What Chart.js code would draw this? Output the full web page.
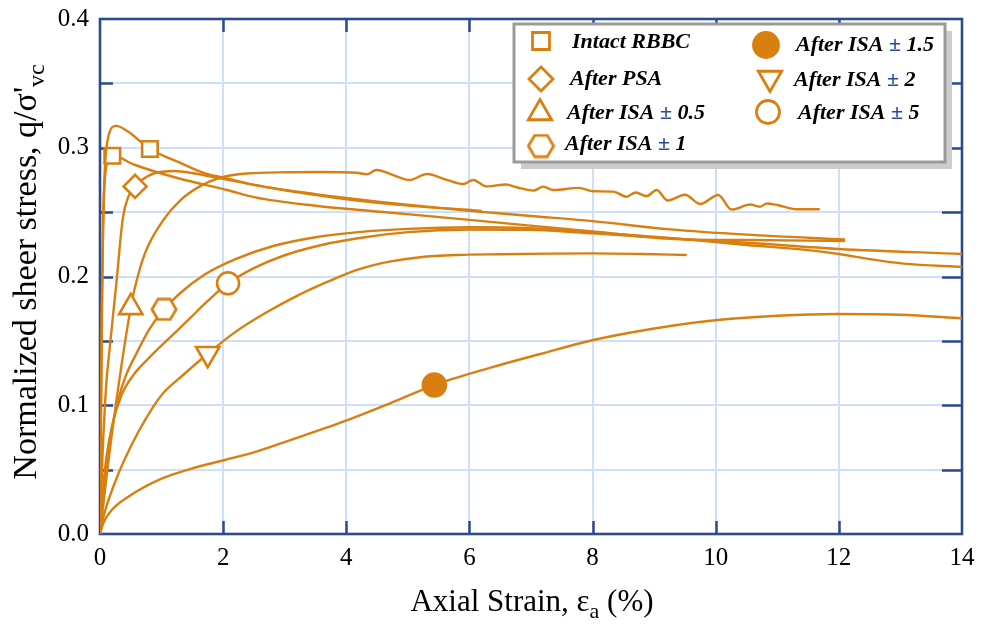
<!DOCTYPE html>
<html><head><meta charset="utf-8">
<script src="https://cdn.jsdelivr.net/npm/chart.js@4.4.1/dist/chart.umd.min.js"></script>
<style>html,body{margin:0;padding:0;background:#fff;}#wrap{width:982px;height:627px;position:relative;}</style>
</head><body><div id="wrap"><canvas id="c" width="982" height="627"></canvas></div>
<script>
// ---------- data ----------
const xTickValues = [0, 2, 4, 6, 8, 10, 12, 14];
const yTickLabels = ['0.0', '0.1', '0.2', '0.3', '0.4'];
const seriesNames = ['Intact RBBC', 'After PSA', 'After ISA \u00B1 0.5', 'After ISA \u00B1 1',
                     'After ISA \u00B1 1.5', 'After ISA \u00B1 2', 'After ISA \u00B1 5'];

const intactAX = [0, 0.01, 0.03, 0.05, 0.08, 0.12, 0.17, 0.26, 0.46, 0.81, 1.27, 1.71, 2.08, 2.52, 3.5, 4.55, 6.0, 7.0, 8.0, 9.26, 10.5, 12.1];
const intactAY = [0, 0.06, 0.16, 0.24, 0.285, 0.305, 0.314, 0.317, 0.3125, 0.299, 0.289, 0.280, 0.276, 0.271, 0.264, 0.258, 0.251, 0.247, 0.243, 0.2366, 0.2325, 0.2287];
const intactAMarker = 9;

const intactBX = [0, 0.01, 0.03, 0.06, 0.1, 0.2, 0.57, 1.27, 2.08, 2.52, 3.5, 4.55, 6.0, 8.0, 9.4, 10.5, 12.1];
const intactBY = [0, 0.07, 0.18, 0.255, 0.285, 0.2938, 0.2866, 0.2763, 0.267, 0.2615, 0.255, 0.2503, 0.244, 0.235, 0.229, 0.2283, 0.2276];
const intactBMarker = 5;

const psaX = [0, 0.04, 0.1, 0.16, 0.27, 0.37, 0.46, 0.57, 0.87, 1.22, 1.54, 1.98, 3.0, 4.55, 6.2];
const psaY = [0, 0.06, 0.115, 0.1455, 0.197, 0.245, 0.262, 0.270, 0.280, 0.282, 0.280, 0.276, 0.267, 0.257, 0.251];
const psaMarker = 7;

const isa05X = [0, 0.1, 0.25, 0.5, 0.57, 0.73, 1.03, 1.3, 1.62, 1.95, 2.38, 3.09, 3.6, 4.17, 4.33, 4.49, 4.76, 5.03, 5.31, 5.63, 5.9, 6.06, 6.28, 6.6, 6.75, 7.04, 7.2, 7.36, 7.78, 8.01, 8.34, 8.55, 8.7, 8.88, 9.04, 9.22, 9.5, 9.75, 10.04, 10.26, 10.56, 10.72, 10.83, 11.0, 11.31, 11.69];
const isa05Y = [0, 0.042, 0.098, 0.176, 0.192, 0.218, 0.244, 0.259, 0.27, 0.2767, 0.280, 0.281, 0.2812, 0.2806, 0.2794, 0.2827, 0.2788, 0.275, 0.2796, 0.275, 0.2718, 0.275, 0.270, 0.2715, 0.2695, 0.2667, 0.2698, 0.2672, 0.2688, 0.2662, 0.2659, 0.262, 0.2652, 0.2625, 0.2672, 0.259, 0.2635, 0.2563, 0.2633, 0.252, 0.2559, 0.2542, 0.2567, 0.2555, 0.2522, 0.2522];
const isa05Marker = 3;

const isa1X = [0, 0.05, 0.12, 0.2, 0.3, 0.42, 0.6, 0.8, 1.04, 1.3, 1.7, 2.2, 2.8, 3.5, 4.2, 5.0, 6.0, 7.0, 8.0, 9.26, 10.5, 11.5, 12.0, 12.5, 13.05, 14];
const isa1Y = [0, 0.03, 0.06, 0.083, 0.105, 0.123, 0.141, 0.159, 0.1745, 0.187, 0.2015, 0.2135, 0.2235, 0.2305, 0.2345, 0.237, 0.2383, 0.2375, 0.2345, 0.2300, 0.2245, 0.2205, 0.2175, 0.2135, 0.2100, 0.2074];
const isa1Marker = 8;

const isa15X = [0, 0.05, 0.19, 0.46, 1.0, 1.5, 2.03, 2.54, 3.09, 4.02, 4.71, 5.43, 6.33, 7.15, 8.01, 9.26, 10.03, 11.0, 11.96, 13.0, 14];
const isa15Y = [0, 0.008, 0.0186, 0.029, 0.043, 0.051, 0.0575, 0.064, 0.073, 0.0885, 0.1015, 0.1157, 0.129, 0.1398, 0.1507, 0.1616, 0.1662, 0.1695, 0.1709, 0.1703, 0.1675];
const isa15Marker = 11;

const isa2X = [0, 0.05, 0.15, 0.3, 0.5, 0.75, 1.0, 1.35, 1.75, 2.2, 2.7, 3.2, 3.7, 4.2, 4.7, 5.2, 5.8, 6.5, 7.3, 8.0, 8.8, 9.53];
const isa2Y = [0, 0.012, 0.028, 0.047, 0.068, 0.09, 0.108, 0.1235, 0.14, 0.157, 0.172, 0.185, 0.196, 0.2055, 0.2115, 0.215, 0.2167, 0.2173, 0.2178, 0.218, 0.2175, 0.2167];
const isa2Marker = 8;

const isa5X = [0, 0.04, 0.1, 0.2, 0.35, 0.55, 0.8, 1.1, 1.45, 1.75, 2.08, 2.5, 3.0, 3.6, 4.3, 5.0, 6.0, 7.0, 8.0, 9.26, 10.5, 12.0, 14];
const isa5Y = [0, 0.03, 0.058, 0.085, 0.108, 0.124, 0.137, 0.151, 0.167, 0.181, 0.1947, 0.2065, 0.2165, 0.2245, 0.2305, 0.2345, 0.2365, 0.2362, 0.2335, 0.2295, 0.2262, 0.2214, 0.2175];
const isa5Marker = 10;

// ---------- styling ----------
const ORANGE = 'rgb(217,127,15)';
const FRAME = '#2c4a8e';
const GRID = '#cde0fb';
const SERIF = '"Liberation Serif", "Times New Roman", serif';

function makeHex(w, h, lw, fill, stroke) {
  const c = document.createElement('canvas');
  c.width = w; c.height = h;
  const g = c.getContext('2d');
  const p = lw / 2 + 0.5;
  const qx = (w - 2 * p) * 0.25;
  g.beginPath();
  g.moveTo(p, h / 2);
  g.lineTo(p + qx, p);
  g.lineTo(w - p - qx, p);
  g.lineTo(w - p, h / 2);
  g.lineTo(w - p - qx, h - p);
  g.lineTo(p + qx, h - p);
  g.closePath();
  g.fillStyle = fill; g.fill();
  g.lineWidth = lw; g.strokeStyle = stroke; g.stroke();
  return c;
}
const hexPlot = makeHex(28, 24, 2.7, '#fff', ORANGE);
const hexLegend = makeHex(29, 25, 2.8, '#fff', ORANGE);

function pts(xs, ys) { return xs.map((x, i) => ({ x: x, y: ys[i] })); }

const seriesDefs = [
  { label: seriesNames[0], xs: intactAX, ys: intactAY, m: intactAMarker, style: 'rect', r: 11, rot: 0, fill: '#fff' },
  { label: seriesNames[0], xs: intactBX, ys: intactBY, m: intactBMarker, style: 'rect', r: 11, rot: 0, fill: '#fff' },
  { label: seriesNames[1], xs: psaX, ys: psaY, m: psaMarker, style: 'rectRot', r: 11.5, rot: 0, fill: '#fff' },
  { label: seriesNames[2], xs: isa05X, ys: isa05Y, m: isa05Marker, style: 'triangle', r: 13.5, rot: 0, fill: '#fff' },
  { label: seriesNames[3], xs: isa1X, ys: isa1Y, m: isa1Marker, style: hexPlot, r: 12, rot: 0, fill: '#fff' },
  { label: seriesNames[4], xs: isa15X, ys: isa15Y, m: isa15Marker, style: 'circle', r: 11.5, rot: 0, fill: ORANGE },
  { label: seriesNames[5], xs: isa2X, ys: isa2Y, m: isa2Marker, style: 'triangle', r: 13.5, rot: 180, fill: '#fff' },
  { label: seriesNames[6], xs: isa5X, ys: isa5Y, m: isa5Marker, style: 'circle', r: 11, rot: 0, fill: '#fff' }
];

const datasets = seriesDefs.map(s => ({
  label: s.label,
  data: pts(s.xs, s.ys),
  borderColor: ORANGE,
  borderWidth: 2.4,
  cubicInterpolationMode: 'monotone',
  fill: false,
  pointStyle: s.style,
  pointRotation: s.rot,
  pointRadius: ctx => ctx.dataIndex === s.m ? s.r : 0,
  pointHoverRadius: ctx => ctx.dataIndex === s.m ? s.r : 0,
  pointBackgroundColor: s.fill,
  pointBorderColor: ORANGE,
  pointBorderWidth: 2.6
}));

// ---------- plugins ----------
const framePlugin = {
  id: 'frame',
  beforeDatasetsDraw(chart) {
    const { ctx, chartArea: a, scales } = chart;
    ctx.save();
    ctx.strokeStyle = FRAME;
    ctx.lineWidth = 2.5;
    ctx.beginPath();
    for (let k = 1; k < 8; k++) {
      const y = Math.round(scales.y.getPixelForValue(k * 0.05)) + 0.5;
      ctx.moveTo(a.left, y); ctx.lineTo(a.left + 13, y);
      ctx.moveTo(a.right, y); ctx.lineTo(a.right - 20, y);
    }
    xTickValues.slice(1, -1).forEach(v => {
      const x = Math.round(scales.x.getPixelForValue(v)) + 0.5;
      ctx.moveTo(x, a.bottom); ctx.lineTo(x, a.bottom - 13);
      ctx.moveTo(x, a.top); ctx.lineTo(x, a.top + 13);
    });
    ctx.stroke();
    ctx.lineWidth = 2.6;
    ctx.strokeRect(a.left, a.top, a.right - a.left, a.bottom - a.top);
    ctx.restore();
  }
};

function drawRich(ctx, parts, x, y) {
  let cx = x;
  parts.forEach(p => {
    ctx.font = p.font;
    ctx.fillStyle = p.color || '#000';
    ctx.fillText(p.t, cx, y + (p.dy || 0));
    cx += ctx.measureText(p.t).width;
  });
  return cx - x;
}
function measureRich(ctx, parts) {
  let w = 0;
  parts.forEach(p => { ctx.font = p.font; w += ctx.measureText(p.t).width; });
  return w;
}

const legendPlugin = {
  id: 'customLegend',
  afterDraw(chart) {
    const ctx = chart.ctx;
    const bx = 514, by = 24, bw = 431, bh = 138;
    ctx.save();
    ctx.fillStyle = '#cccccc';
    ctx.fillRect(bx + 7, by + 7, bw, bh);
    ctx.fillStyle = '#fff';
    ctx.fillRect(bx, by, bw, bh);
    ctx.strokeStyle = '#9a9a9a';
    ctx.lineWidth = 3;
    ctx.strokeRect(bx, by, bw, bh);

    const f = 'italic bold 22px ' + SERIF;
    const items = [
      { s: 'rect', r: 12, rot: 0, fill: '#fff', mx: 541, my: 41, tx: 572, ty: 42, name: seriesNames[0] },
      { s: 'rectRot', r: 12, rot: 0, fill: '#fff', mx: 541, my: 79, tx: 570, ty: 79, name: seriesNames[1] },
      { s: 'triangle', r: 13.5, rot: 0, fill: '#fff', mx: 540, my: 113, tx: 567, ty: 113, name: seriesNames[2] },
      { s: hexLegend, r: 12, rot: 0, fill: '#fff', mx: 541, my: 146, tx: 565, ty: 144, name: seriesNames[3] },
      { s: 'circle', r: 12.5, rot: 0, fill: ORANGE, mx: 766, my: 45, tx: 796, ty: 45, name: seriesNames[4] },
      { s: 'triangle', r: 13.5, rot: 180, fill: '#fff', mx: 770, my: 78, tx: 794, ty: 80, name: seriesNames[5] },
      { s: 'circle', r: 11.5, rot: 0, fill: '#fff', mx: 768, my: 112, tx: 798, ty: 113, name: seriesNames[6] }
    ];
    items.forEach(it => {
      ctx.fillStyle = it.fill;
      ctx.strokeStyle = ORANGE;
      ctx.lineWidth = 2.8;
      Chart.helpers.drawPoint(ctx, { pointStyle: it.s, radius: it.r, rotation: it.rot, borderWidth: 2.8 }, it.mx, it.my);
      ctx.textBaseline = 'middle';
      ctx.textAlign = 'left';
      const idx = it.name.indexOf('\u00B1');
      let parts;
      if (idx >= 0) {
        parts = [{ t: it.name.slice(0, idx), font: f }, { t: '\u00B1', font: f, color: '#2c4a9e' }, { t: it.name.slice(idx + 1), font: f }];
      } else {
        parts = [{ t: it.name, font: f }];
      }
      drawRich(ctx, parts, it.tx, it.ty);
    });
    ctx.restore();
  }
};

const titlePlugin = {
  id: 'axisTitles',
  afterDraw(chart) {
    const ctx = chart.ctx;
    const a = chart.chartArea;
    ctx.save();
    ctx.textBaseline = 'alphabetic';
    ctx.textAlign = 'left';
    const fx = '31px ' + SERIF, fxs = '22px ' + SERIF;
    const xParts = [{ t: 'Axial Strain, \u03B5', font: fx }, { t: 'a', font: fxs, dy: 7 }, { t: ' (%)', font: fx }];
    const xw = measureRich(ctx, xParts);
    drawRich(ctx, xParts, (a.left + a.right) / 2 - xw / 2 + 1, 611);

    const fy = '34px ' + SERIF, fys = '24px ' + SERIF;
    const yParts = [{ t: 'Normalized sheer stress, q/\u03C3\'', font: fy }, { t: 'vc', font: fys, dy: 8 }];
    const yw = measureRich(ctx, yParts);
    ctx.translate(36, 272);
    ctx.rotate(-Math.PI / 2);
    drawRich(ctx, yParts, -yw / 2, 0);
    ctx.restore();
  }
};

// ---------- chart ----------
new Chart(document.getElementById('c'), {
  type: 'line',
  data: { datasets: datasets },
  options: {
    responsive: false,
    animation: false,
    events: [],
    layout: { padding: { top: 19, right: 20, left: 0, bottom: 0 } },
    plugins: { legend: { display: false }, tooltip: { enabled: false } },
    scales: {
      x: {
        type: 'linear', min: 0, max: 14,
        border: { display: false },
        grid: { color: GRID, lineWidth: 2, drawTicks: false },
        ticks: {
          stepSize: 2, autoSkip: false, maxRotation: 0, padding: 9,
          color: '#000', font: { family: SERIF, size: 25 },
          callback: v => xTickValues.includes(v) ? String(v) : ''
        },
        afterFit: s => { s.height = 93; s.paddingLeft = 0; s.paddingRight = 0; }
      },
      y: {
        type: 'linear', min: 0, max: 0.4,
        border: { display: false },
        grid: { color: GRID, lineWidth: 2, drawTicks: false },
        ticks: {
          stepSize: 0.05, autoSkip: false, padding: 11,
          color: '#000', font: { family: SERIF, size: 25 },
          callback: v => {
            const k = Math.round(v * 20);
            return k % 2 === 0 ? yTickLabels[k / 2] : '';
          }
        },
        afterFit: s => { s.width = 100; s.paddingTop = 0; s.paddingBottom = 0; }
      }
    }
  },
  plugins: [framePlugin, legendPlugin, titlePlugin]
});
</script>
</body></html>
